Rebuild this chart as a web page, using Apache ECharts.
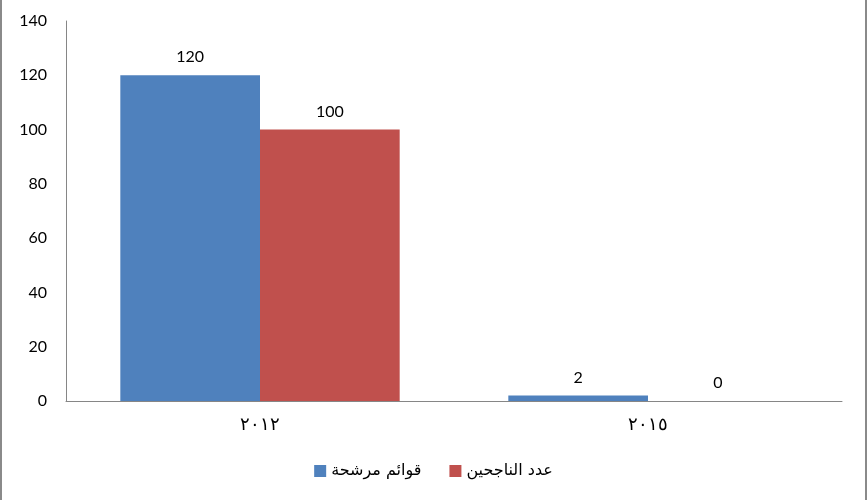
<!DOCTYPE html>
<html>
<head>
<meta charset="utf-8">
<script src="https://cdn.jsdelivr.net/npm/echarts@6/dist/echarts.min.js"></script>
<style>
html,body{margin:0;padding:0;background:#fff;}
#wrap{position:relative;width:867px;height:500px;}
#chart{position:absolute;left:0;top:0;width:867px;height:500px;}
.bl{position:absolute;top:0;width:2px;height:500px;background:#8a8a8a;}
</style>
</head>
<body>
<div id="wrap">
<div id="chart"></div>
<div class="bl" style="left:0"></div>
<div class="bl" style="right:0"></div>
</div>
<script>
var categories = ['٢٠١٢', '٢٠١٥'];
var seriesNames = ['قوائم مرشحة', 'عدد الناجحين'];
var candidateLists = [120, 2];
var winners = [100, 0];
var yMin = 0, yMax = 140, yInterval = 20;

var chart = echarts.init(document.getElementById('chart'), null, {renderer: 'canvas'});
var labelStyle = {show: true, position: 'top', distance: 10, color: '#000', fontSize: 16, fontFamily: 'Lato, "Open Sans", sans-serif'};
chart.setOption({
  animation: false,
  color: ['#4F81BD', '#C0504D'],
  grid: {left: 66, right: 25, top: 21, bottom: 99, containLabel: false},
  legend: {
    data: seriesNames,
    top: 458,
    left: 'center',
    itemWidth: 12,
    itemHeight: 12,
    itemGap: 28,
    icon: 'rect',
    textStyle: {fontSize: 16, color: '#000', fontFamily: '"DejaVu Sans", "Liberation Sans", sans-serif'}
  },
  xAxis: {
    type: 'category',
    data: categories,
    axisLine: {lineStyle: {color: '#868686', width: 1}},
    axisTick: {show: false},
    axisLabel: {color: '#000', fontSize: 18, margin: 15, fontFamily: '"Liberation Serif", "DejaVu Serif", serif'}
  },
  yAxis: {
    type: 'value',
    min: yMin, max: yMax, interval: yInterval,
    axisLine: {show: true, lineStyle: {color: '#868686', width: 1}},
    axisTick: {show: false},
    splitLine: {show: false},
    axisLabel: {color: '#000', fontSize: 16, margin: 19, fontFamily: 'Lato, "Open Sans", sans-serif'}
  },
  series: [
    {name: seriesNames[0], type: 'bar', data: candidateLists, barGap: '0%', barCategoryGap: '28%', label: labelStyle},
    {name: seriesNames[1], type: 'bar', data: winners, barGap: '0%', barCategoryGap: '28%', label: labelStyle}
  ]
});
</script>
</body>
</html>
